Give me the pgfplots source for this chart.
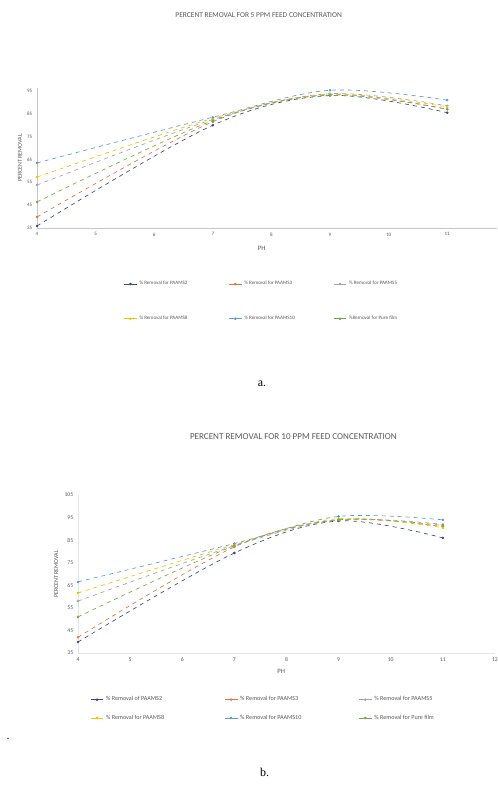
\documentclass[border=0pt]{standalone}
\usepackage{pgfplots}
\pgfplotsset{compat=1.18}
\usepackage{fontspec}
\setmainfont{Liberation Serif}
\newfontfamily\chartfont{Carlito}
\definecolor{sA}{HTML}{3B4A8A}
\definecolor{sB}{HTML}{E8703A}
\definecolor{sC}{HTML}{A5A5A5}
\definecolor{sD}{HTML}{F2C300}
\definecolor{sE}{HTML}{5B9BD5}
\definecolor{sF}{HTML}{70AD47}
\definecolor{txt}{HTML}{595959}
\newcommand{\la}[1]{\makebox[62pt][l]{#1}}
\newcommand{\lb}[1]{\makebox[84pt][l]{#1}}
\pgfplotsset{
  myaxis/.style={
    scale only axis,
    axis lines*=left,
    axis line style={draw=gray!45},
    tick style={draw=none},
    /pgf/number format/assume math mode=true,
    ylabel style={font=\chartfont\fontsize{4.5}{5}\selectfont, text=txt},
    xlabel style={font=\chartfont\fontsize{5}{6}\selectfont, text=txt},
    legend cell align=left,
    legend image code/.code={\draw[mark repeat=2,mark phase=2] plot coordinates {(0cm,0cm) (0.16cm,0cm) (0.32cm,0cm)};},
    clip=false,
  },
  sty/.style={color=#1, dashed, line width=0.5pt, smooth, tension=0.55, mark=*, mark size=0.7pt, mark options={solid, fill=#1}},
}
\begin{document}
\begin{tikzpicture}
\useasboundingbox (0,0) rectangle (373.5pt,-589.5pt);
% Titles and captions
\node[font=\chartfont\fontsize{5.6}{6}\selectfont, text=txt] at (194pt,-11.5pt) {PERCENT REMOVAL FOR 5 PPM FEED CONCENTRATION};
\node[font=\chartfont\fontsize{6.8}{7}\selectfont, text=txt] at (220pt,-327.5pt) {PERCENT REMOVAL FOR 10 PPM FEED CONCENTRATION};
\node[font=\fontsize{9}{10}\selectfont] at (196.5pt,-287.5pt) {a.};
\node[font=\fontsize{9}{10}\selectfont] at (198.5pt,-579pt) {b.};
\node[font=\fontsize{9}{10}\selectfont] at (6pt,-554pt) {.};

% Chart a
\begin{axis}[myaxis,
  at={(27.75pt,-171pt)}, anchor=south west,
  width=345pt, height=105pt,
  xmin=4, xmax=11.85, ymin=35, ymax=96.3,
  xtick={4,5,6,7,8,9,10,11},
  ytick={35,45,55,65,75,85,95},
  tick label style={font=\chartfont\fontsize{3.8}{4}\selectfont, text=txt},
  xlabel={PH}, xlabel style={xshift=-4pt, yshift=-1pt},
  ylabel={PERCENT REMOVAL}, ylabel style={yshift=-3pt},
  legend style={draw=none, fill=none, at={(rel axis cs:0.18,-0.34)}, anchor=north west,
    font=\chartfont\fontsize{3.8}{4}\selectfont, text=txt, legend columns=3,
    /tikz/every even column/.append style={column sep=3pt}, row sep=18pt},
  legend image post style={solid},
]
\addplot[sty=sA] coordinates {(4,35.9) (7,80.0) (9,93.0) (11,85.5)};
\addplot[sty=sB] coordinates {(4,39.8) (7,81.5) (9,93.5) (11,87.0)};
\addplot[sty=sC] coordinates {(4,53.8) (7,82.5) (9,93.8) (11,88.5)};
\addplot[sty=sD] coordinates {(4,57.3) (7,83.0) (9,93.5) (11,88.0)};
\addplot[sty=sE] coordinates {(4,63.5) (7,83.5) (9,95.3) (11,91.0)};
\addplot[sty=sF] coordinates {(4,46.4) (7,82.0) (9,93.2) (11,87.0)};
\legend{\la{\% Removal for PAAMS2}, \la{\% Removal for PAAMS3}, \la{\% Removal for PAAMS5}, \la{\% Removal for PAAMS8}, \la{\% Removal for PAAMS10}, \la{\%Removal for Pure film}}
\end{axis}

% Chart b
\begin{axis}[myaxis,
  at={(58.5pt,-489.75pt)}, anchor=south west,
  width=312.75pt, height=118.5pt,
  xmin=4, xmax=12, ymin=35, ymax=105,
  axis line style={draw=gray!20},
  xtick={4,5,6,7,8,9,10,11,12},
  ytick={35,45,55,65,75,85,95,105},
  tick label style={font=\chartfont\fontsize{4.3}{5}\selectfont, text=txt},
  xlabel={PH}, xlabel style={xshift=-4pt, yshift=1pt},
  ylabel={PERCENT REMOVAL}, ylabel style={yshift=-2pt},
  legend style={draw=none, fill=none, at={(rel axis cs:0.02,-0.24)}, anchor=north west,
    font=\chartfont\fontsize{4.6}{5}\selectfont, text=txt, legend columns=3,
    /tikz/every even column/.append style={column sep=3pt}, row sep=5pt},
  legend image post style={solid},
]
\addplot[sty=sA] coordinates {(4,39.9) (7,79.3) (9,93.5) (11,86.0)};
\addplot[sty=sB] coordinates {(4,42.0) (7,82.0) (9,94.0) (11,91.0)};
\addplot[sty=sC] coordinates {(4,58.0) (7,82.5) (9,94.0) (11,92.0)};
\addplot[sty=sD] coordinates {(4,61.6) (7,83.0) (9,94.5) (11,90.5)};
\addplot[sty=sE] coordinates {(4,66.5) (7,83.5) (9,95.5) (11,94.0)};
\addplot[sty=sF] coordinates {(4,51.0) (7,82.5) (9,94.0) (11,91.5)};
\legend{\lb{\% Removal of PAAMS2}, \lb{\% Removal for PAAMS3}, \lb{\% Removal for PAAMS5}, \lb{\% Removal for PAAMS8}, \lb{\% Removal for PAAMS10}, \lb{\% Removal for Pure film}}
\end{axis}
\end{tikzpicture}
\end{document}
